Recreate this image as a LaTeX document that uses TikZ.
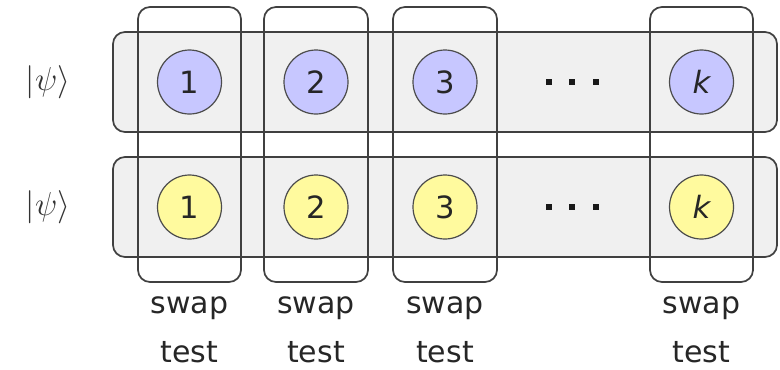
\documentclass[tikz,border=0pt]{standalone}
\usepackage{fontspec}
\setmainfont{DejaVu Sans}
\begin{document}
\begin{tikzpicture}[x=0.75pt,y=-0.75pt,
  rowbox/.style={draw=black!75,line width=1.3pt,fill=black!6,rounded corners=9pt},
  colbox/.style={draw=black!75,line width=1.3pt,rounded corners=9pt},
  qb/.style={circle,draw=black!70,line width=0.9pt,minimum size=48pt,inner sep=0pt,font=\fontsize{23}{27}\selectfont,text=black!85},
  qa/.style={qb,fill=blue!22},
  qy/.style={qb,fill=yellow!38},
  lab/.style={font=\fontsize{22.5}{37}\selectfont,align=center,anchor=north,text=black!85},
  ket/.style={font=\fontsize{26}{30}\selectfont,text=black!80},
  dotsq/.style={fill=black!90,minimum size=5pt,inner sep=0pt}]
\useasboundingbox (0,0) rectangle (780,369);
% row boxes
\path[rowbox] (113,32) rectangle (777,132);
\path[rowbox] (113,157) rectangle (777,257);
% column boxes
\foreach \a/\b/\n in {138/241/c1,264/368/c2,393/497/c3,650/753/ck}{
  \path[colbox] (\a,7) rectangle (\b,282);
}
% kets
\node[ket] (k1) at (48,82) {$|\psi\rangle$};
\node[ket] (k2) at (48,207) {$|\psi\rangle$};
% qubits
\node[qa] (a1) at (189.5,82) {1};
\node[qa] (a2) at (316,82) {2};
\node[qa] (a3) at (445,82) {3};
\node[qa] (ak) at (701.5,82) {\itshape k};
\node[qy] (b1) at (189.5,207) {1};
\node[qy] (b2) at (316,207) {2};
\node[qy] (b3) at (445,207) {3};
\node[qy] (bk) at (701.5,207) {\itshape k};
% dots
\foreach \x/\y/\nm in {549/82/d1,572/82/d2,596/82/d3,549/207/e1,572/207/e2,596/207/e3}{
  \node[dotsq] (\nm) at (\x,\y) {};
}
% labels
\node[lab] (s1) at (189.5,292) {swap\\test};
\node[lab] (s2) at (316,292) {swap\\test};
\node[lab] (s3) at (445,292) {swap\\test};
\node[lab] (sk) at (701.5,292) {swap\\test};
\end{tikzpicture}
\end{document}
